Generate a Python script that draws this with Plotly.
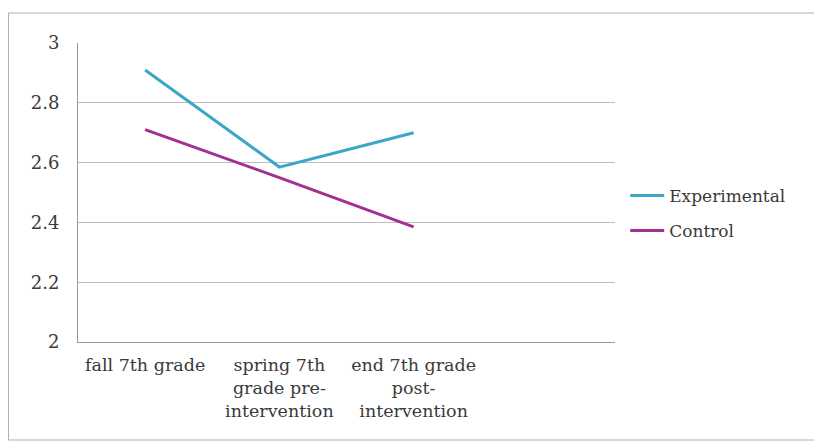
import plotly.graph_objects as go

categories = ["fall 7th grade", "spring 7th<br>grade pre-<br>intervention",
              "end 7th grade<br>post-<br>intervention"]
experimental = [2.91, 2.585, 2.70]
control = [2.71, 2.55, 2.385]
y_ticks = [2, 2.2, 2.4, 2.6, 2.8, 3]
y_tick_labels = ["2", "2.2", "2.4", "2.6", "2.8", "3"]

font_family = "DejaVu Serif, Liberation Serif, serif"
text_color = "#3a3a3a"

fig = go.Figure()
fig.add_trace(go.Scatter(x=categories, y=experimental, mode="lines",
                         name="Experimental", legendgroup="e",
                         line=dict(color="#3aa7c9", width=3)))
fig.add_trace(go.Scatter(x=categories, y=control, mode="lines",
                         name="Control", legendgroup="c",
                         line=dict(color="#a3308f", width=3)))

# the page body adds an 8px offset, so the figure is 8px smaller
W, H = 814, 434
L, R, T, B = 70, 207, 35, 100
pw, ph = W - L - R, H - T - B

bx0 = (0.5 - L) / pw
bx1 = (W + 20 - L) / pw
by0 = (T + ph - 432) / ph
by1 = (T + ph - 5) / ph
border = dict(color="#b0b0b0", width=1)

fig.update_layout(
    width=W, height=H,
    margin=dict(l=L, r=R, t=T, b=B),
    paper_bgcolor="white", plot_bgcolor="white",
    font=dict(family=font_family, size=17, color=text_color),
    showlegend=True,
    legend=dict(x=1.019, y=0.43, xanchor="left", yanchor="middle",
                font=dict(size=17, color=text_color),
                tracegroupgap=10, itemwidth=34, bgcolor="rgba(0,0,0,0)"),
    xaxis=dict(type="category", categoryorder="array", categoryarray=categories,
               range=[-0.5, 3.5], showgrid=False, showline=True,
               linecolor="#999", linewidth=1, ticks="", zeroline=False,
               ticklabelstandoff=7,
               tickfont=dict(size=17.5, color=text_color), tickangle=0),
    yaxis=dict(range=[2, 3], tickvals=y_ticks, ticktext=y_tick_labels,
               showgrid=True, gridcolor="#bdbdc6", gridwidth=1,
               showline=True, linecolor="#999", linewidth=1, ticks="",
               zeroline=False, ticklabelstandoff=14,
               tickfont=dict(size=18, color=text_color)),
    shapes=[
        dict(type="line", xref="paper", yref="paper", x0=bx0, x1=bx1,
             y0=by1, y1=by1, line=border, layer="below"),
        dict(type="line", xref="paper", yref="paper", x0=bx0, x1=bx0,
             y0=by0, y1=by1, line=border, layer="below"),
        dict(type="line", xref="paper", yref="paper", x0=bx0, x1=bx1,
             y0=by0, y1=by0, line=border, layer="below"),
    ],
)

fig.write_html("out.html")
